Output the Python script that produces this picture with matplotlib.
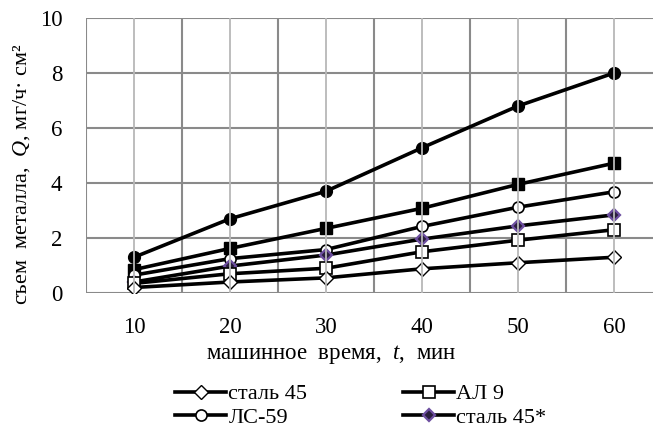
import matplotlib
matplotlib.use("Agg")
import matplotlib.pyplot as plt
import numpy as np

plt.rcParams["font.family"] = ["Liberation Serif", "DejaVu Serif"]
plt.rcParams["mathtext.fontset"] = "custom"
plt.rcParams["mathtext.rm"] = "Liberation Serif"
plt.rcParams["mathtext.it"] = "Liberation Serif:italic"

t = [10, 20, 30, 40, 50, 60]
q_circle_f = [1.3, 2.7, 3.7, 5.28, 6.8, 8.0]
q_square_f = [0.85, 1.62, 2.35, 3.08, 3.95, 4.72]
q_ls59 = [0.65, 1.25, 1.58, 2.42, 3.12, 3.68]
q_st45s = [0.4, 0.98, 1.38, 1.96, 2.44, 2.84]
q_al9 = [0.35, 0.7, 0.9, 1.5, 1.92, 2.3]
q_st45 = [0.2, 0.4, 0.55, 0.88, 1.1, 1.3]

fig = plt.figure(figsize=(6.53, 4.29), dpi=100)
ax = fig.add_axes([86 / 653, 136 / 429, 576 / 653, 275 / 429])

lw = 2.6
ax.plot(t, q_circle_f, color="black", lw=lw, marker="o", ms=8.5, zorder=3)
ax.plot(t, q_square_f, color="black", lw=lw, marker="s", ms=8.5, zorder=3)
l_ls, = ax.plot(t, q_ls59, color="black", lw=lw, marker="o", ms=8,
                mfc="white", mec="black", mew=1.2, zorder=3)
l_st45s, = ax.plot(t, q_st45s, color="black", lw=lw, marker="D", ms=6.5,
                   mfc="#2a1f3d", mec="#6d4fa0", mew=1.6, zorder=3)
l_al, = ax.plot(t, q_al9, color="black", lw=lw, marker="s", ms=8,
                mfc="white", mec="black", mew=1.2, zorder=3)
l_st, = ax.plot(t, q_st45, color="black", lw=lw, marker="D", ms=7,
                mfc="white", mec="black", mew=1.0, zorder=3)

# light vertical lines through the data columns
ax.vlines(t, 0, 10, color="#b8b8b8", lw=1.3, zorder=4)

ax.set_xlim(5, 65)
ax.set_ylim(0, 10)
ax.set_xticks(t)
ax.set_xticks(np.arange(5, 66, 10), minor=True)
ax.set_yticks([0, 2, 4, 6, 8, 10])
ax.grid(True, which="minor", axis="x", color="#8a8a8a", lw=1.5)
ax.grid(True, which="major", axis="y", color="#8a8a8a", lw=1.5)
ax.set_axisbelow(True)
for s in ax.spines.values():
    s.set_visible(False)
ax.tick_params(which="both", length=0, labelsize=16.5)
ax.tick_params(axis="y", pad=17)
ax.tick_params(axis="x", pad=17)

fig.text(22 / 653, 0.595, "съем  металла,  $Q$, мг/ч· см²", rotation=90,
         ha="center", va="center", fontsize=16)
fig.text(331 / 653, 1 - 355 / 429, "машинное  время,  $t$,  мин",
         ha="center", va="center", fontsize=16.5)

fig.legend([l_st, l_ls, l_al, l_st45s], ["сталь 45", "ЛС-59", "АЛ 9", "сталь 45*"],
           ncol=2, loc="center left", bbox_to_anchor=(164 / 653, 1 - 406 / 429),
           frameon=False, fontsize=16, handlelength=2.3, handletextpad=0.1,
           columnspacing=4.3, labelspacing=0.15, borderpad=0)

plt.savefig("out.png", dpi=100)
